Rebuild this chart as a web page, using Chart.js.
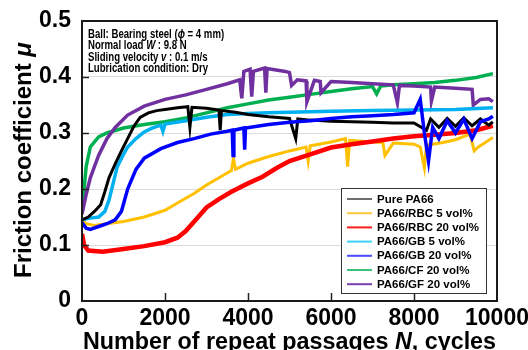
<!DOCTYPE html>
<html>
<head>
<meta charset="utf-8">
<script src="https://cdn.jsdelivr.net/npm/chart.js@4.4.1/dist/chart.umd.min.js"></script>
<style>
  html, body { margin: 0; padding: 0; background: #fff; }
  canvas { display: block; }
</style>
</head>
<body>
<canvas id="frictionChart" width="528" height="350"></canvas>
<script>
// --- data (N = cycles, mu = friction coefficient) ---
const seriesLabels = ["Pure PA66", "PA66/RBC 5 vol%", "PA66/RBC 20 vol%", "PA66/GB 5 vol%",
  "PA66/GB 20 vol%", "PA66/CF 20 vol%", "PA66/GF 20 vol%"];

const pureN = [0, 150, 300, 450, 550, 650, 800, 950, 1100, 1250, 1400, 1600, 1800, 2000, 2300, 2550, 2600, 2650,
  3000, 3300, 3330, 3360, 3700, 4000, 4500, 5000, 5150, 5200, 5500, 6000, 6500, 7000, 7500, 8000, 8300, 8400,
  8600, 8800, 9000, 9200, 9400, 9600, 9800, 9900];
const pureMu = [0.145, 0.15, 0.16, 0.172, 0.195, 0.22, 0.245, 0.268, 0.29, 0.312, 0.328, 0.336, 0.34, 0.342,
  0.345, 0.347, 0.31, 0.346, 0.344, 0.341, 0.305, 0.34, 0.337, 0.333, 0.329, 0.326, 0.29, 0.325, 0.323, 0.321,
  0.32, 0.319, 0.318, 0.318, 0.305, 0.325, 0.31, 0.326, 0.312, 0.327, 0.313, 0.325, 0.314, 0.32];

const rbc5N = [0, 100, 300, 600, 1000, 1500, 2000, 2300, 2700, 3000, 3300, 3600, 3650, 3700, 4000, 4500, 5000,
  5400, 5450, 5500, 6000, 6350, 6400, 6450, 7000, 7250, 7300, 7500, 8000, 8150, 8250, 8300, 8700, 9000, 9350,
  9450, 9550, 9700, 9900];
const rbc5Mu = [0.145, 0.138, 0.135, 0.138, 0.142, 0.15, 0.162, 0.175, 0.192, 0.207, 0.22, 0.233, 0.255, 0.235,
  0.246, 0.258, 0.268, 0.275, 0.25, 0.277, 0.284, 0.29, 0.24, 0.287, 0.284, 0.283, 0.26, 0.282, 0.28, 0.275,
  0.238, 0.278, 0.283, 0.288, 0.298, 0.268, 0.275, 0.282, 0.292];

const rbc20N = [0, 50, 150, 500, 1000, 1500, 2000, 2300, 2500, 2800, 3000, 3300, 3600, 4000, 4350, 4700, 5000,
  5500, 6000, 6500, 7000, 7500, 8000, 8500, 9000, 9500, 9900];
const rbc20Mu = [0.12, 0.1, 0.09, 0.088, 0.093, 0.098, 0.105, 0.113, 0.125, 0.15, 0.167, 0.182, 0.195, 0.21,
  0.222, 0.238, 0.25, 0.262, 0.274, 0.28, 0.285, 0.29, 0.294, 0.297, 0.3, 0.305, 0.313];

const gb5N = [0, 200, 400, 550, 650, 750, 850, 1000, 1100, 1300, 1500, 1700, 1900, 1950, 2000, 2500, 3000, 3500,
  4000, 4500, 5000, 5500, 6000, 7000, 8000, 9000, 9900];
const gb5Mu = [0.145, 0.148, 0.15, 0.16, 0.18, 0.21, 0.24, 0.262, 0.275, 0.29, 0.302, 0.309, 0.314, 0.303,
  0.316, 0.322, 0.328, 0.333, 0.335, 0.336, 0.337, 0.338, 0.339, 0.34, 0.341, 0.342, 0.345];

const gb20N = [0, 100, 200, 400, 600, 800, 950, 1100, 1300, 1500, 1900, 2300, 2700, 3100, 3500, 3620, 3640,
  3660, 3900, 3920, 3940, 4500, 5000, 5500, 6000, 6500, 7000, 7500, 8000, 8150, 8250, 8350, 8450, 8600, 8800,
  9000, 9200, 9400, 9600, 9800, 9900];
const gb20Mu = [0.14, 0.13, 0.128, 0.133, 0.138, 0.145, 0.16, 0.2, 0.235, 0.255, 0.272, 0.283, 0.29, 0.298,
  0.303, 0.305, 0.26, 0.305, 0.309, 0.27, 0.309, 0.315, 0.319, 0.322, 0.326, 0.329, 0.331, 0.333, 0.336, 0.36,
  0.3, 0.25, 0.31, 0.29, 0.322, 0.3, 0.325, 0.29, 0.32, 0.325, 0.33];

const cfN = [0, 50, 100, 200, 400, 600, 1000, 1500, 2000, 2500, 3000, 3500, 4000, 4500, 5000, 5500, 6000, 6500,
  7000, 7100, 7200, 7500, 8000, 8500, 9000, 9500, 9900];
const cfMu = [0.16, 0.2, 0.24, 0.275, 0.293, 0.3, 0.309, 0.315, 0.32, 0.327, 0.336, 0.345, 0.352, 0.359, 0.364,
  0.369, 0.374, 0.379, 0.383, 0.37, 0.384, 0.386, 0.388, 0.39, 0.394, 0.399, 0.406];

const gfN = [0, 100, 200, 400, 600, 800, 1100, 1500, 2000, 2500, 3000, 3500, 3800, 3850, 3900, 4050, 4090, 4130,
  4400, 4430, 4460, 4900, 5000, 5050, 5190, 5400, 5420, 5600, 5740, 5760, 6000, 6500, 7000, 7500, 7600, 7650,
  8000, 8400, 8420, 8500, 9000, 9400, 9430, 9600, 9800, 9900];
const gfMu = [0.155, 0.19, 0.22, 0.26, 0.29, 0.31, 0.332, 0.348, 0.36, 0.368, 0.378, 0.388, 0.395, 0.362, 0.41,
  0.414, 0.365, 0.41, 0.416, 0.372, 0.415, 0.41, 0.408, 0.385, 0.395, 0.393, 0.356, 0.394, 0.392, 0.372, 0.392,
  0.39, 0.388, 0.386, 0.354, 0.385, 0.384, 0.382, 0.357, 0.382, 0.38, 0.378, 0.35, 0.36, 0.361, 0.356];

const xTicks = [0, 2000, 4000, 6000, 8000, 10000];
const yTicks = [0, 0.1, 0.2, 0.3, 0.4, 0.5];

const noteLines = [
  [["Ball: Bearing steel (", 0], ["\u03d5", 1], [" = 4 mm)", 0]],
  [["Normal load ", 0], ["W", 1], [" : 9.8 N", 0]],
  [["Sliding velocity ", 0], ["v", 1], [" : 0.1 m/s", 0]],
  [["Lubrication condition: Dry", 0]]
];

// --- styles ---
const FONT = '"Liberation Sans", Arial, sans-serif';
const lineColors = ["#000000", "#ffc000", "#ff0000", "#00b0f0", "#0000ff", "#00b050", "#7030a0"];
const legendColors = ["#6e6e6e", "#ffc83c", "#ff1e1e", "#3cd2ff", "#4b4bff", "#3cc07a", "#7a40b0"];
const lineWidths = [3, 3, 4.5, 3.5, 3.5, 3.5, 3.5];
const drawOrder = [1, 4, 3, 2, 0, 6, 5];

const pairs = [[pureN, pureMu], [rbc5N, rbc5Mu], [rbc20N, rbc20Mu], [gb5N, gb5Mu],
  [gb20N, gb20Mu], [cfN, cfMu], [gfN, gfMu]];

const toPoints = (ns, mus) => ns.map((n, i) => ({ x: n, y: mus[i] }));

// draw a line of text made of normal / italic pieces
function drawRich(ctx, parts, x, y, size, align) {
  const fontOf = (it) => (it ? "italic " : "") + "bold " + size + "px " + FONT;
  let total = 0;
  parts.forEach(([t, it]) => { ctx.font = fontOf(it); total += ctx.measureText(t).width; });
  let cx = align === "center" ? x - total / 2 : x;
  parts.forEach(([t, it]) => {
    ctx.font = fontOf(it);
    ctx.fillText(t, cx, y);
    cx += ctx.measureText(t).width;
  });
}

const decorations = {
  id: "decorations",
  afterDraw(chart) {
    const ctx = chart.ctx;
    const a = chart.chartArea;
    const xs = chart.scales.x, ys = chart.scales.y;
    ctx.save();
    ctx.fillStyle = "#000";
    ctx.textAlign = "left";
    ctx.textBaseline = "alphabetic";

    // inward tick marks
    ctx.strokeStyle = "#222";
    ctx.lineWidth = 1.5;
    yTicks.slice(1, -1).forEach(v => {
      const py = Math.round(ys.getPixelForValue(v)) + 0.5;
      ctx.beginPath(); ctx.moveTo(a.left, py); ctx.lineTo(a.left + 7, py); ctx.stroke();
    });
    xTicks.slice(1, -1).forEach(v => {
      const px = Math.round(xs.getPixelForValue(v)) + 0.5;
      ctx.beginPath(); ctx.moveTo(px, a.bottom); ctx.lineTo(px, a.bottom - 8); ctx.stroke();
    });

    // plot frame
    ctx.strokeStyle = "#1a1a1a";
    ctx.lineWidth = 2;
    ctx.strokeRect(a.left, a.top, a.right - a.left, a.bottom - a.top);

    // conditions note
    noteLines.forEach((parts, i) => {
      ctx.save();
      ctx.translate(88, 38.3 + i * 11.1);
      ctx.scale(0.8, 1);
      drawRich(ctx, parts, 0, 0, 12, "left");
      ctx.restore();
    });

    // legend box
    const lx = 341.5, ly = 188.5, lw = 145, lh = 105;
    ctx.fillStyle = "#fff";
    ctx.fillRect(lx, ly, lw, lh);
    ctx.strokeStyle = "#333";
    ctx.lineWidth = 1;
    ctx.strokeRect(lx, ly, lw, lh);
    ctx.font = "bold 11.5px " + FONT;
    ctx.textBaseline = "middle";
    seriesLabels.forEach((lab, i) => {
      const cy = 199 + i * 14.2;
      ctx.strokeStyle = legendColors[i];
      ctx.lineWidth = 2;
      ctx.beginPath(); ctx.moveTo(347, cy); ctx.lineTo(372, cy); ctx.stroke();
      ctx.fillStyle = "#000";
      ctx.fillText(lab, 377, cy + 0.5);
    });

    // axis titles
    ctx.textBaseline = "alphabetic";
    ctx.fillStyle = "#000";
    drawRich(ctx, [["Number of repeat passages ", 0], ["N", 1], [", cycles", 0]],
      (a.left + a.right) / 2, 349, 23.3, "center");
    ctx.save();
    ctx.translate(31, 278);
    ctx.rotate(-Math.PI / 2);
    drawRich(ctx, [["Friction coefficient ", 0], ["\u03bc", 1]], 0, 0, 24, "left");
    ctx.restore();

    ctx.restore();
  }
};

new Chart(document.getElementById("frictionChart").getContext("2d"), {
  type: "line",
  data: {
    datasets: pairs.map(([ns, mus], i) => ({
      label: seriesLabels[i],
      data: toPoints(ns, mus),
      borderColor: lineColors[i],
      borderWidth: lineWidths[i],
      pointRadius: 0,
      tension: 0,
      fill: false,
      order: drawOrder[i],
    })),
  },
  options: {
    responsive: false,
    animation: false,
    devicePixelRatio: 1,
    layout: { padding: { top: 21, right: 31, left: 0, bottom: 0 } },
    plugins: { legend: { display: false }, tooltip: { enabled: false } },
    scales: {
      x: {
        type: "linear",
        min: 0,
        max: 10000,
        afterBuildTicks: (s) => { s.ticks = xTicks.map(v => ({ value: v })); },
        afterFit: (s) => { s.height = 49; s.paddingLeft = 0; s.paddingRight = 0; },
        ticks: {
          color: "#000",
          font: { family: FONT, size: 23, weight: "bold" },
          padding: 4,
          maxRotation: 0,
          autoSkip: false,
          callback: (v) => String(v),
        },
        grid: { display: false, drawTicks: false },
        border: { display: false },
      },
      y: {
        min: 0,
        max: 0.5,
        afterBuildTicks: (s) => { s.ticks = yTicks.map(v => ({ value: v })); },
        afterFit: (s) => { s.width = 82; s.paddingTop = 0; s.paddingBottom = 0; },
        ticks: {
          color: "#000",
          font: { family: FONT, size: 23, weight: "bold" },
          padding: 11,
          callback: (v) => String(+v.toFixed(1)),
        },
        grid: { color: "#dcdcdc", lineWidth: 1, drawTicks: false },
        border: { display: false },
      },
    },
  },
  plugins: [decorations],
});
</script>
</body>
</html>
